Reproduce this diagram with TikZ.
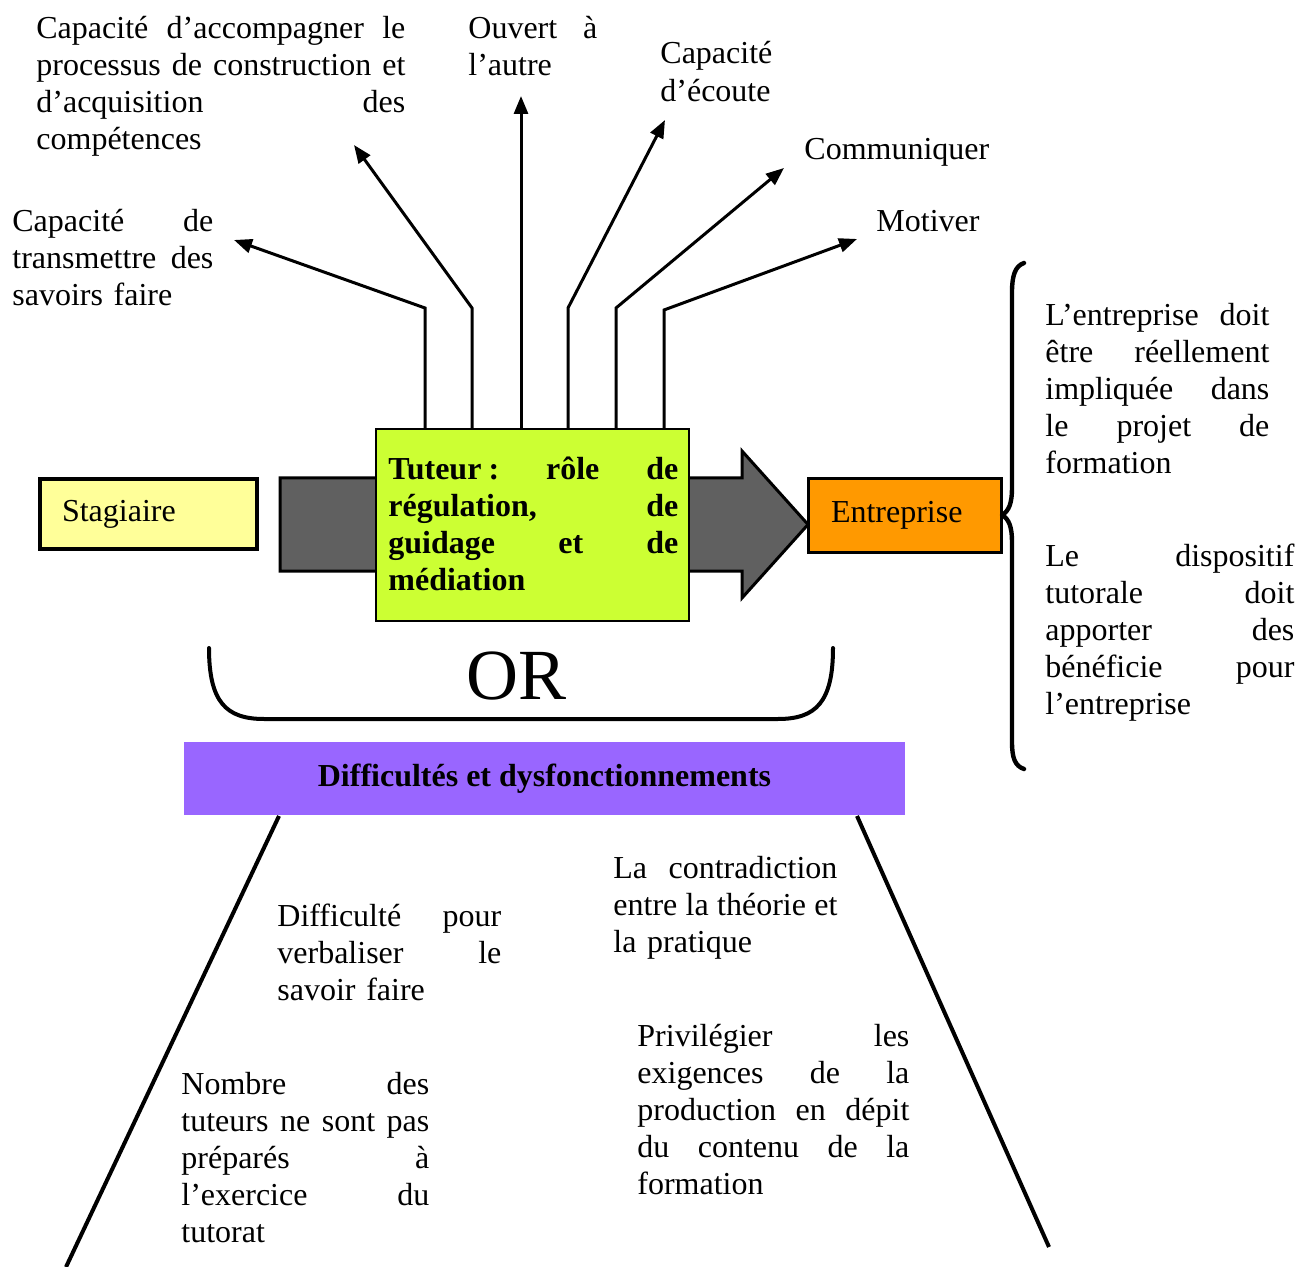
\documentclass[tikz,border=0pt]{standalone}
\usepackage{fontspec}
\setmainfont{Liberation Serif}
\usetikzlibrary{arrows.meta}
\definecolor{stagcol}{HTML}{FFFF99}
\definecolor{arrowgray}{HTML}{606060}
\definecolor{tutcol}{HTML}{CCFF33}
\definecolor{entcol}{HTML}{FF9900}
\definecolor{purpcol}{HTML}{9966FF}
\newcommand\JL[1]{\leavevmode\hbox to \nodew{\spaceskip=0.25em plus 1fil\xspaceskip=\spaceskip #1}}
\tikzset{
  txt/.style={anchor=base west, inner sep=0pt, align=left, font=\fontsize{16}{18.5}\selectfont},
  jtxt/.style={txt, text width=#1, execute at begin node={\def\nodew{#1}}},
  arr/.style={line width=1.5pt, -{Triangle[length=9pt,width=7pt]}},
  boxnode/.style={draw, rectangle, inner sep=0pt},
  thickline/.style={line width=2pt, line cap=round, line join=round},
}
\begin{document}
\begin{tikzpicture}[x=0.5pt,y=-0.5pt]
\useasboundingbox (0,0) rectangle (1301,1267);

% big grey arrow
\draw[line width=1.5pt, fill=arrowgray] (280,478) -- (742,478) -- (742,451) -- (808,524.5) -- (742,598) -- (742,571) -- (280,571) -- cycle;

% boxes
\node[boxnode, line width=2pt, fill=stagcol, minimum width=108.5pt, minimum height=35pt,
      inner xsep=11pt, text width=86.5pt, align=left, font=\fontsize{16}{18.5}\selectfont] (stag) at (148.5,514) {Stagiaire};
\node[boxnode, line width=1pt, fill=tutcol, minimum width=156.5pt, minimum height=96pt] (tut) at (532.5,525) {};
\node[jtxt=145pt, font=\fontsize{16}{18.5}\selectfont\bfseries] (tuttxt) at (388,480)
  {\JL{Tuteur\kern0.22em: rôle de}\\\JL{régulation, de}\\\JL{guidage et de}\\médiation};
\node[boxnode, line width=1.5pt, fill=entcol, minimum width=96.5pt, minimum height=36.5pt,
      inner xsep=11.5pt, text width=73.5pt, align=left, font=\fontsize{16}{18.5}\selectfont] (ent) at (904.5,515.5) {Entreprise};

% top labels
\node[jtxt=184.5pt] (acc) at (36,39)
  {\JL{Capacité d’accompagner le}\\\JL{processus de construction et}\\\JL{d’acquisition des}\\compétences};
\node[jtxt=64.5pt] (ouv) at (468,39) {\JL{Ouvert à}\\l’autre};
\node[txt, text width=80pt, font=\fontsize{16}{19}\selectfont] (ecou) at (660,64) {Capacité\\d’écoute};
\node[txt] (comm) at (804,160) {Communiquer};
\node[txt] (motiv) at (876,232) {Motiver};
\node[jtxt=100.5pt] (trans) at (12,232)
  {\JL{Capacité de}\\\JL{transmettre des}\\savoirs faire};

% arrows from tutor box
\coordinate (b1) at (425,308); \coordinate (t1) at (234,240);
\coordinate (b2) at (472,308); \coordinate (t2) at (354,145);
\coordinate (t3) at (521,96);
\coordinate (b4) at (568,308); \coordinate (t4) at (665,120);
\coordinate (b5) at (616,308); \coordinate (t5) at (784,168);
\coordinate (b6) at (664,310); \coordinate (t6) at (857,239);
\draw[arr] (b1 |- tut.north) -- (b1) -- (t1);
\draw[arr] (b2 |- tut.north) -- (b2) -- (t2);
\draw[arr] (t3 |- tut.north) -- (t3);
\draw[arr] (b4 |- tut.north) -- (b4) -- (t4);
\draw[arr] (b5 |- tut.north) -- (b5) -- (t5);
\draw[arr] (b6 |- tut.north) -- (b6) -- (t6);

% right brace
\draw[thickline, line width=2.2pt] (1024,263) .. controls (1015,266) and (1012,276) .. (1012,292) -- (1012,488)
  .. controls (1012,503) and (1009,511) .. (1002,515)
  .. controls (1009,519) and (1012,527) .. (1012,542) -- (1012,742)
  .. controls (1012,758) and (1015,766) .. (1024,769);
\node[jtxt=112pt] (impl) at (1045,326)
  {\JL{L’entreprise doit}\\\JL{être réellement}\\\JL{impliquée dans}\\\JL{le projet de}\\formation};
\node[jtxt=124.5pt] (disp) at (1045,566)
  {\JL{Le dispositif}\\\JL{tutorale doit}\\\JL{apporter des}\\\JL{bénéficie pour}\\l’entreprise};

% OR bracket
\draw[thickline] (209,648) .. controls (209,702) and (226,719) .. (264,719) -- (778,719)
  .. controls (816,719) and (833,702) .. (833,648);
\node[inner sep=0pt, font=\fontsize{36}{40}\selectfont] (or) at (517,676) {OR};

% difficulties bar
\node[fill=purpcol, minimum width=360.5pt, minimum height=36.5pt, inner sep=0pt,
      font=\fontsize{16}{18.5}\selectfont\bfseries] (diff) at (544.5,778.5) {Difficultés et dysfonctionnements};
\coordinate (l0) at (279,816); \coordinate (l1) at (66,1267);
\coordinate (r0) at (857,816); \coordinate (r1) at (1049,1247);
\draw[thickline, line cap=butt] (l0) -- (l1);
\draw[thickline, line cap=butt] (r0) -- (r1);

% bottom labels
\node[jtxt=112pt] (verb) at (277,926)
  {\JL{Difficulté pour}\\\JL{verbaliser le}\\savoir faire};
\node[jtxt=112pt] (contr) at (613,878)
  {\JL{La contradiction}\\\JL{entre la théorie et}\\la pratique};
\node[jtxt=136pt] (priv) at (637,1046)
  {\JL{Privilégier les}\\\JL{exigences de la}\\\JL{production en dépit}\\\JL{du contenu de la}\\formation};
\node[jtxt=124pt] (nomb) at (181,1094)
  {\JL{Nombre des}\\\JL{tuteurs ne sont pas}\\\JL{préparés à}\\\JL{l’exercice du}\\tutorat};
\end{tikzpicture}
\end{document}
